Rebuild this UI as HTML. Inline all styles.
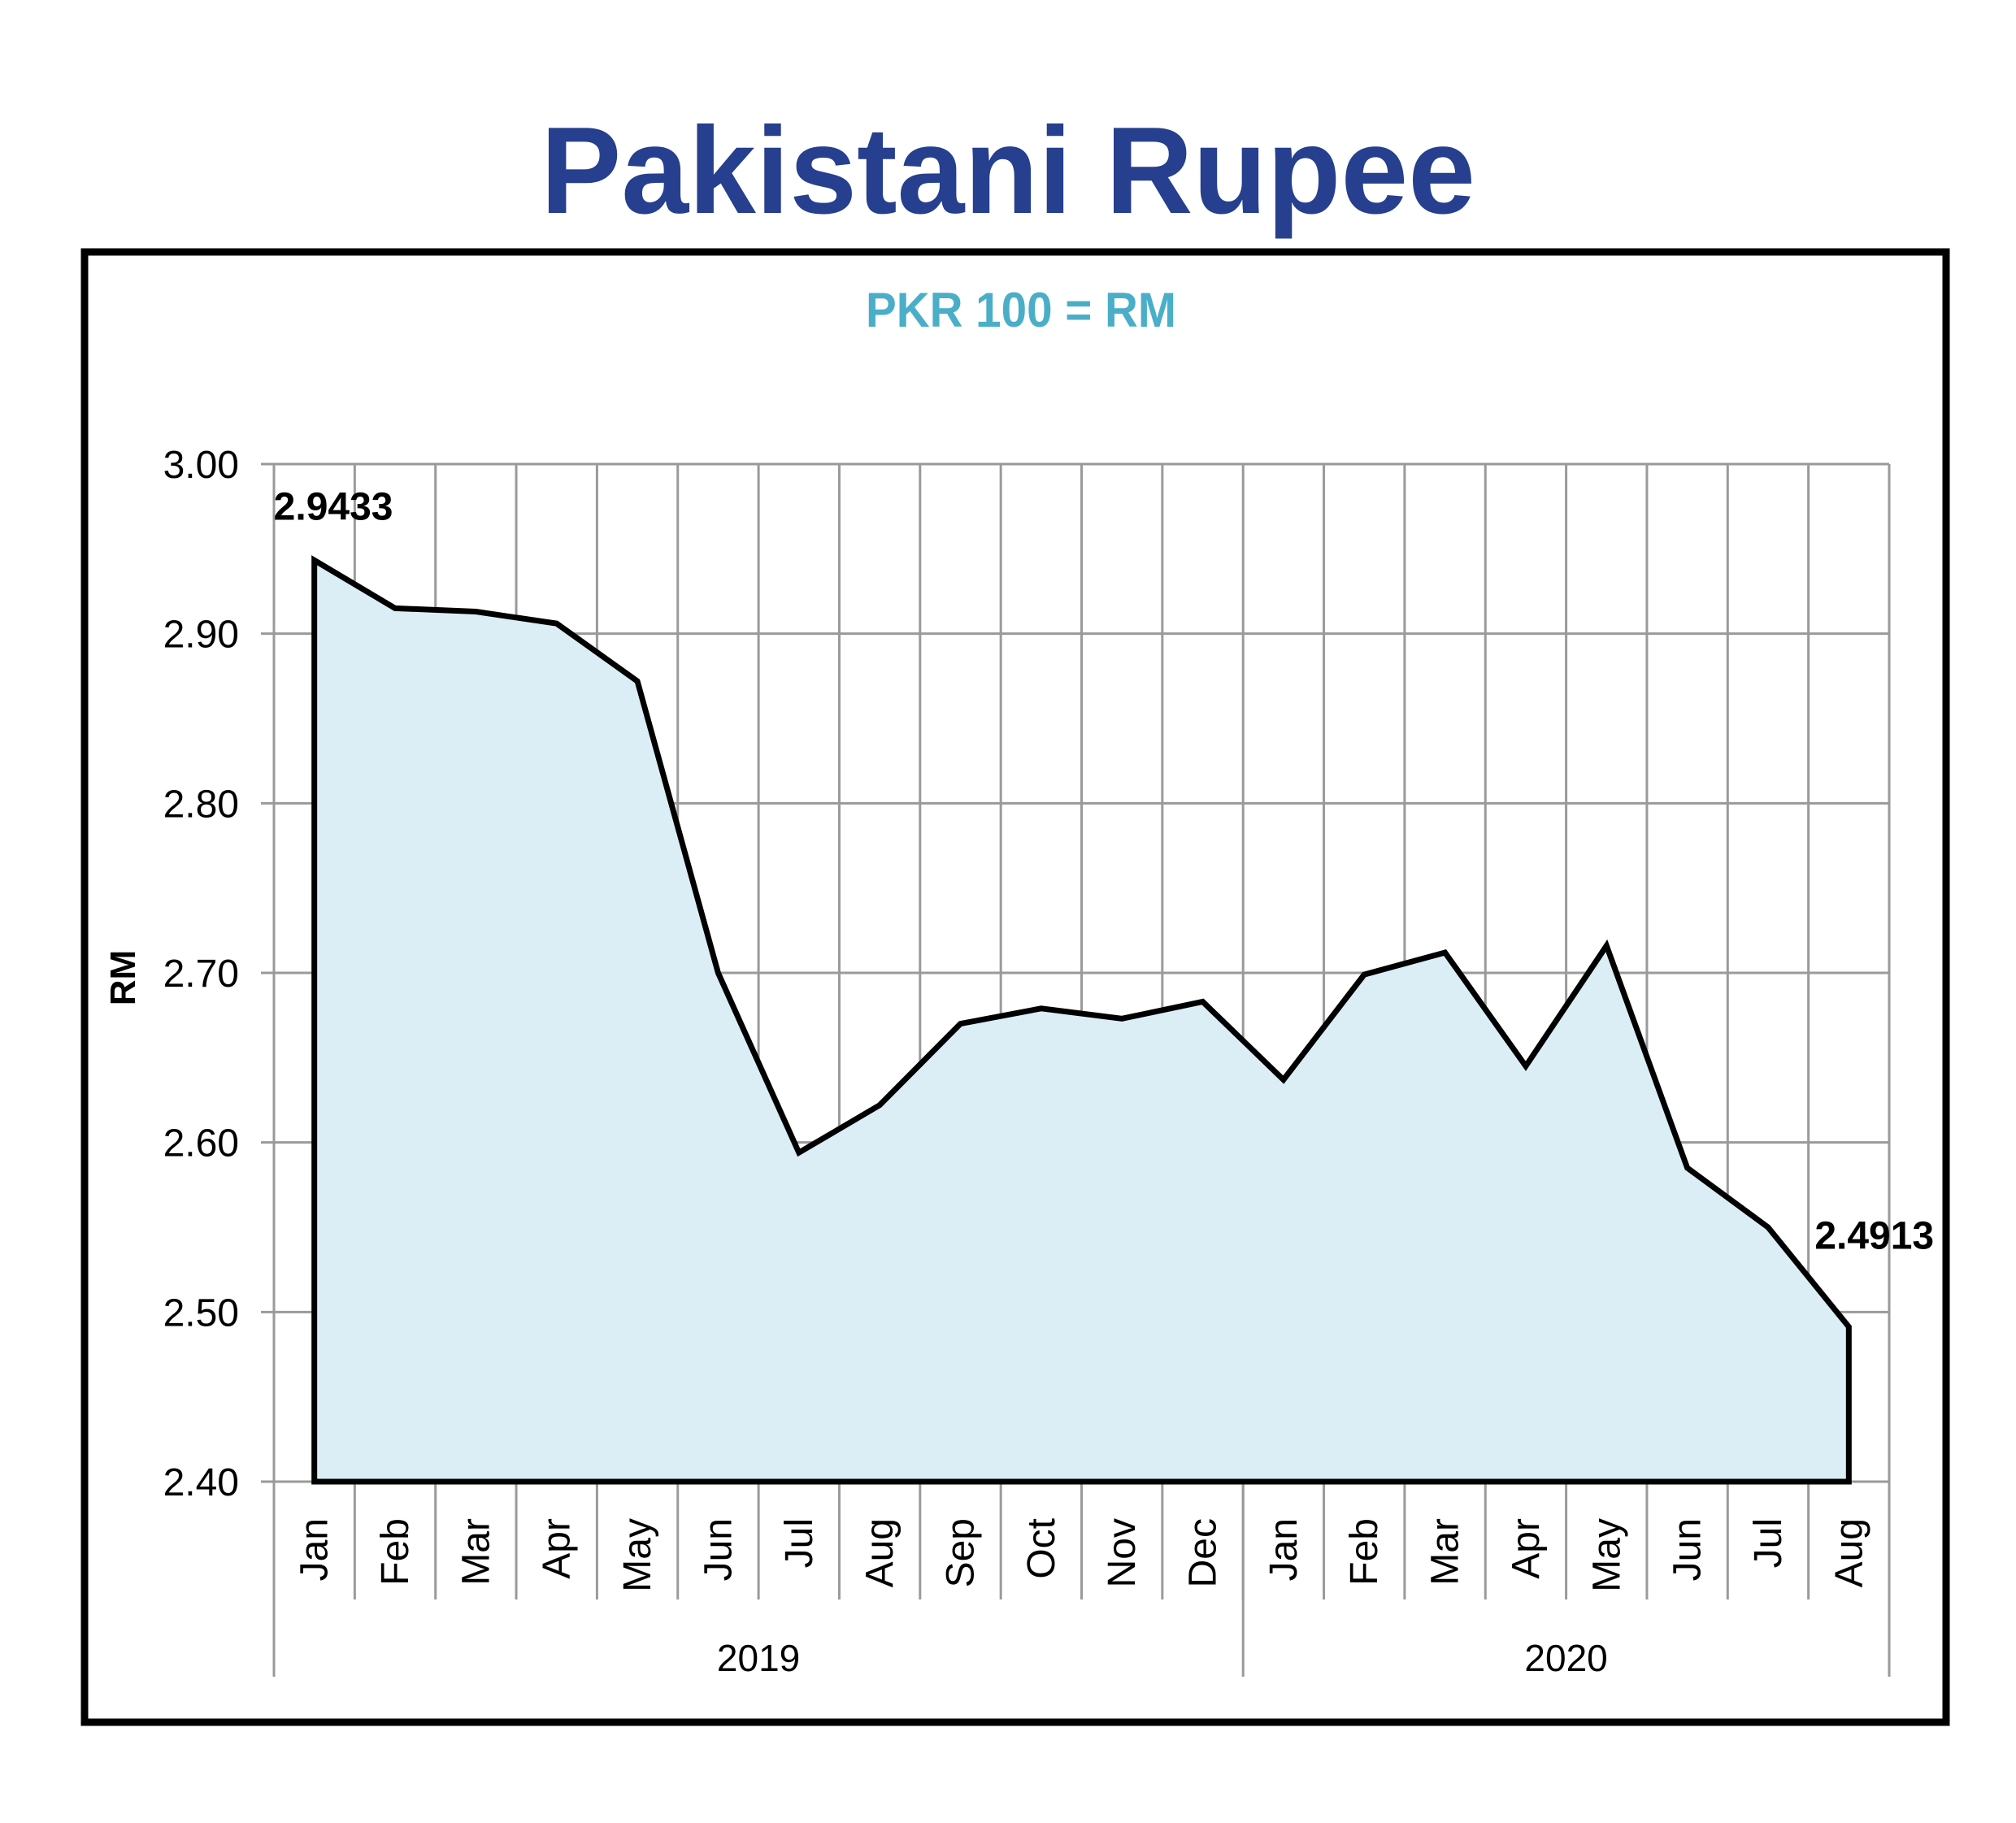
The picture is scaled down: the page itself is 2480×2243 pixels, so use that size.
<!DOCTYPE html>
<html><head><meta charset="utf-8"><style>
html,body{margin:0;padding:0;background:#fff;}
svg{display:block;font-family:"Liberation Sans",sans-serif;}
</style></head><body>
<svg id="chart" width="2480" height="2243" viewBox="0 0 2480 2243" xmlns="http://www.w3.org/2000/svg">
<text x="1240" y="262" text-anchor="middle" font-size="152" font-weight="bold" fill="#263f8e" textLength="1150" lengthAdjust="spacingAndGlyphs">Pakistani Rupee</text>
<rect x="104" y="310" width="2290" height="1809" fill="none" stroke="#000" stroke-width="9"/>
<text x="1256" y="402" text-anchor="middle" font-size="60" font-weight="bold" fill="#4aaec8" textLength="382" lengthAdjust="spacingAndGlyphs">PKR 100 = RM</text>
<g id="grid"></g>
<g id="series"></g>
<g id="axes"></g>
<text transform="translate(166,1203) rotate(-90)" text-anchor="middle" font-size="44" font-weight="bold" fill="#000">RM</text>
</svg>
<script>
const months = ["Jan","Feb","Mar","Apr","May","Jun","Jul","Aug","Sep","Oct","Nov","Dec","Jan","Feb","Mar","Apr","May","Jun","Jul","Aug"];
const years = ["2019","2020"];
const yearSpans = [12, 8];
const values = [2.9433,2.915,2.913,2.906,2.872,2.700,2.594,2.622,2.670,2.679,2.673,2.683,2.637,2.699,2.712,2.645,2.716,2.585,2.550,2.4913];
const yTicks = [2.40,2.50,2.60,2.70,2.80,2.90,3.00];
const labeledIdx = [0, 19];

const NS = "http://www.w3.org/2000/svg";
const L = 337, R = 2324, T = 571, B = 1823, yMin = 2.40, yMax = 3.00;
const bw = (R - L) / months.length;
const xC = i => L + bw * (i + 0.5);
const xE = i => L + bw * i;
const y = v => B - (v - yMin) / (yMax - yMin) * (B - T);
function mk(tag, attrs, parent, text) {
  const e = document.createElementNS(NS, tag);
  for (const k in attrs) e.setAttribute(k, attrs[k]);
  if (text !== undefined) e.textContent = text;
  parent.appendChild(e);
  return e;
}
const grid = document.getElementById('grid');
const axes = document.getElementById('axes');
const series = document.getElementById('series');
yTicks.forEach(t => {
  const ln = mk('line', {x1: L - 16, x2: R, y1: y(t), y2: y(t), stroke: '#9a9a9a', 'stroke-width': 3}, grid);
  
  
  const tx = mk('text', {x: 294, y: y(t) + 17, 'text-anchor': 'end', 'font-size': 48, fill: '#000'}, axes, t.toFixed(2));
  
  
});
for (let i = 0; i <= months.length; i++) {
  const ln = mk('line', {x1: xE(i), x2: xE(i), y1: T, y2: 1968, stroke: '#9a9a9a', 'stroke-width': 3}, grid);
  
  
}
let acc = 0;
[0].concat(yearSpans).forEach((s, k) => {
  acc += s;
  const ln = mk('line', {x1: xE(acc), x2: xE(acc), y1: B, y2: 2063, stroke: '#9a9a9a', 'stroke-width': 3}, grid);
  
  
});
acc = 0;
years.forEach((yr, k) => {
  const cx = (xE(acc) + xE(acc + yearSpans[k])) / 2;
  acc += yearSpans[k];
  const tx = mk('text', {x: cx, y: 2056, 'text-anchor': 'middle', 'font-size': 46, fill: '#000'}, axes, yr);
  
  
});
months.forEach((m, i) => {
  const tx = mk('text', {transform: `translate(${xC(i) + 16},1868) rotate(-90)`, 'text-anchor': 'end', 'font-size': 48, fill: '#000'}, axes, m);
  
  
});
let d = `M${xC(0)},${B}`;
values.forEach((v, i) => { d += ` L${xC(i)},${y(v)}`; });
d += ` L${xC(values.length - 1)},${B} Z`;
const area = mk('path', {d: d, fill: '#dbeef6', stroke: '#000', 'stroke-width': 7, 'stroke-linejoin': 'miter'}, series);


labeledIdx.forEach(i => {
  const x = i === 0 ? xC(i) - 50 : xC(i) - 42;
  const yy = i === 0 ? y(values[i]) - 50 : y(values[i]) - 96;
  const tx = mk('text', {x: x, y: yy, 'font-size': 48, 'font-weight': 'bold', fill: '#000'}, series, values[i].toFixed(4));
  
  
});
</script>
</body></html>
